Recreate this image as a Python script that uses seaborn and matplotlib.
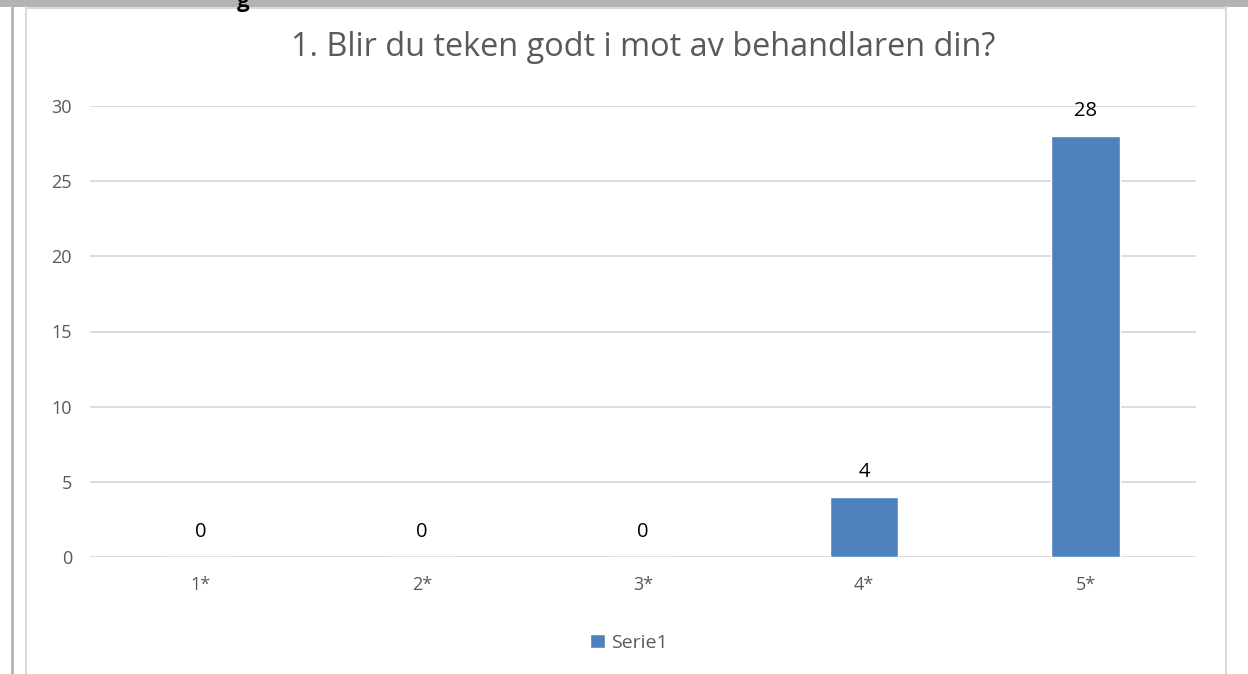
import matplotlib
matplotlib.use("Agg")
import matplotlib.pyplot as plt
import seaborn as sns
import pandas as pd
from matplotlib.lines import Line2D
from matplotlib.patches import Rectangle

# chart data
categories = ["1*", "2*", "3*", "4*", "5*"]
values = [0, 0, 0, 4, 28]
series_name = "Serie1"
title = "1. Blir du teken godt i mot av behandlaren din?"
y_ticks = [0, 5, 10, 15, 20, 25, 30]

sns.set_theme(style="white")
plt.rcParams["font.family"] = ["Open Sans", "DejaVu Sans"]

W, H = 1248, 674
fig = plt.figure(figsize=(W / 100, H / 100), dpi=100)
fig.patch.set_facecolor("white")

# screenshot frame: grey band on top, borders around the chart
fig.patches.append(Rectangle((0, (H - 7) / H), 1, 7 / H, transform=fig.transFigure,
                             facecolor="#b3b3b3", edgecolor="none", zorder=0))
fig.lines.append(Line2D([12 / W, 12 / W], [0, (H - 7) / H], transform=fig.transFigure,
                        color="#b3b3b3", lw=2))
fig.lines.append(Line2D([25.5 / W, 25.5 / W], [0, (H - 7) / H], transform=fig.transFigure,
                        color="#d9d9d9", lw=1.5))
fig.lines.append(Line2D([1226 / W, 1226 / W], [0, (H - 7) / H], transform=fig.transFigure,
                        color="#d9d9d9", lw=1.5))
fig.lines.append(Line2D([25.5 / W, 1226 / W], [(H - 8) / H, (H - 8) / H], transform=fig.transFigure,
                        color="#d9d9d9", lw=1.5))
fig.text(243 / W, (H - 1) / H, "g", fontsize=16, fontweight="bold", color="black",
         ha="center", va="center")

ax = fig.add_axes([90 / W, 117 / H, 1106 / W, 451 / H])
df = pd.DataFrame({"Kategori": categories, "Antall": values})
sns.barplot(data=df, x="Kategori", y="Antall", color="#4F81BD", width=0.31,
            saturation=1, ax=ax, label=series_name)

ax.set_ylim(0, 30)
ax.set_yticks(y_ticks)
ax.yaxis.grid(True, color="#d9d9d9", lw=1.3)
ax.set_axisbelow(True)
for s in ax.spines.values():
    s.set_visible(False)
ax.set_xlabel("")
ax.set_ylabel("")
ax.tick_params(axis="both", length=0, labelsize=13, labelcolor="#595959")
ax.tick_params(axis="y", pad=13)
ax.tick_params(axis="x", pad=14)

for i, v in enumerate(values):
    ax.annotate(str(v), (i, v), xytext=(0, 11), textcoords="offset points",
                ha="center", va="bottom", fontsize=14.5, color="black")

fig.text((90 + 1106 / 2) / W, (H - 48) / H, title, fontsize=23.4, color="#595959",
         ha="center", va="center")

leg = ax.legend(loc="center", bbox_to_anchor=(0.487, -0.19), frameon=False,
                fontsize=14, handlelength=0.8, handleheight=0.8, handletextpad=0.3)
for t in leg.get_texts():
    t.set_color("#595959")

fig.savefig("out.png", dpi=100)
